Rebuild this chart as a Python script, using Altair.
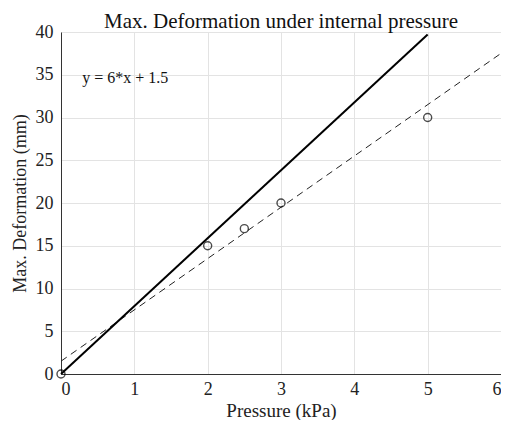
import altair as alt
import pandas as pd

# measured points
px = [0, 2, 2.5, 3, 5]
py = [0, 15, 17, 20, 30]
# solid line endpoints
sx = [0, 5]
sy = [0, 39.7]
# dashed fit line y = 6*x + 1.5 endpoints
fx = [0, 6]
fy = [1.5, 37.5]
ann_text = ["y = 6*x + 1.5"]
ann_x = [0.29]
ann_y = [34.6]

FONT = "Liberation Serif"

pts = pd.DataFrame({"x": px, "y": py})
solid = pd.DataFrame({"x": sx, "y": sy})
fit = pd.DataFrame({"x": fx, "y": fy})
ann = pd.DataFrame({"x": ann_x, "y": ann_y, "t": ann_text})

xs = alt.Scale(domain=[0, 6], nice=False, zero=False)
ys = alt.Scale(domain=[0, 40], nice=False, zero=False)
xax = alt.Axis(title="Pressure (kPa)", values=[0, 1, 2, 3, 4, 5, 6], format="d",
               grid=True, gridColor="#e3e3e3", domainColor="#333333", ticks=False,
               labelFont=FONT, labelFontSize=18, labelColor="#222222", labelPadding=6,
               titleFont=FONT, titleFontSize=19, titleFontWeight="normal", titleColor="#222222",
               titlePadding=3)
yax = alt.Axis(title="Max. Deformation (mm)", values=list(range(0, 41, 5)), format="d",
               grid=True, gridColor="#e3e3e3", domainColor="#333333", ticks=False,
               labelFont=FONT, labelFontSize=18, labelColor="#222222", labelPadding=8,
               titleFont=FONT, titleFontSize=18, titleFontWeight="normal", titleColor="#222222",
               titlePadding=6)

base_x = alt.X("x:Q", scale=xs, axis=xax)
base_y = alt.Y("y:Q", scale=ys, axis=yax)

fit_line = alt.Chart(fit).mark_line(color="#222222", strokeWidth=1, strokeDash=[7, 5]).encode(x=base_x, y=base_y)
solid_line = alt.Chart(solid).mark_line(color="#000000", strokeWidth=2).encode(x="x:Q", y="y:Q")
points = alt.Chart(pts).mark_point(shape="circle", filled=False, color="#000000", size=64, strokeWidth=1.4).encode(x="x:Q", y="y:Q")
text = alt.Chart(ann).mark_text(align="left", baseline="middle", font=FONT, fontSize=16, color="#111111").encode(x="x:Q", y="y:Q", text="t:N")

chart = alt.layer(fit_line, solid_line, points, text).properties(
    width=440, height=342,
    title=alt.TitleParams("Max. Deformation under internal pressure", font=FONT, fontSize=21,
                          fontWeight="normal", color="#111111", anchor="middle", offset=0,
                          dy=9, frame="group"),
    autosize=alt.AutoSizeParams(type="none"),
    padding={"left": 53, "top": 24, "right": 0, "bottom": 46},
).configure_view(stroke=None)

chart.save("out.html", embed_options={"renderer": "svg", "actions": False})
